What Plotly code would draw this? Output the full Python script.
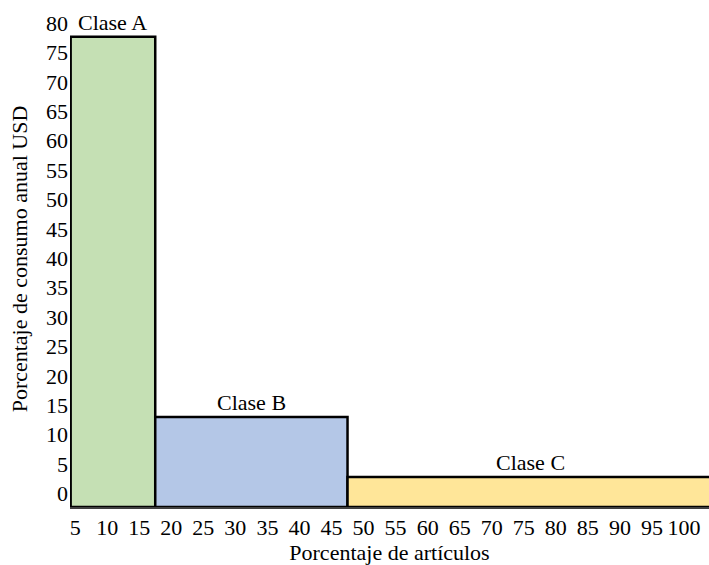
import plotly.graph_objects as go

# Data
classes = ["Clase A", "Clase B", "Clase C"]
x_edges = [4.3, 17.5, 47.5, 104.6]          # percentage of items (axis units)
values = [77.7, 13.0, 2.8]                 # percentage of annual consumption (axis units)
colors = ["#C5E0B4", "#B4C7E7", "#FFE699"]
x_ticks = list(range(5, 101, 5))
y_ticks = list(range(0, 81, 5))

X_RANGE = [4.2, 103.9]
Y_RANGE = [-2.3, 82.07]

centers = [(a + b) / 2 for a, b in zip(x_edges[:-1], x_edges[1:])]
widths = [b - a for a, b in zip(x_edges[:-1], x_edges[1:])]
heights = [v - Y_RANGE[0] for v in values]

FONT = "Liberation Serif, Times New Roman, serif"
FS = 22

fig = go.Figure()
fig.add_trace(go.Bar(
    x=centers, y=heights, width=widths, base=Y_RANGE[0],
    marker=dict(color=colors, line=dict(color="black", width=2.5)),
    text=classes, hoverinfo="text", textposition="none",
))

for c, v, name in zip(centers, values, classes):
    fig.add_annotation(x=c, y=v, text=name, showarrow=False, yanchor="bottom",
                       yshift=0, font=dict(family=FONT, size=FS, color="black"))

fig.update_layout(
    width=709, height=565,
    margin=dict(l=70, r=0, t=11, b=58),
    plot_bgcolor="white", paper_bgcolor="white",
    showlegend=False,
    font=dict(family=FONT, size=FS, color="black"),
    xaxis=dict(range=X_RANGE, tickvals=x_ticks, ticks="", showgrid=False,
               zeroline=False, showline=True, linecolor="#404040", linewidth=2,
               ticklabelstandoff=0,
               title=dict(text="Porcentaje de artículos", standoff=4,
                          font=dict(family=FONT, size=FS))),
    yaxis=dict(range=Y_RANGE, tickvals=y_ticks, ticks="", showgrid=False,
               zeroline=False, showline=False, ticklabelstandoff=1,
               title=dict(text="Porcentaje de consumo anual USD", standoff=12,
                          font=dict(family=FONT, size=FS))),
)

fig.write_html("out.html", config={"displayModeBar": False},
               post_script="document.body.style.margin='0';document.body.style.overflow='hidden';")
